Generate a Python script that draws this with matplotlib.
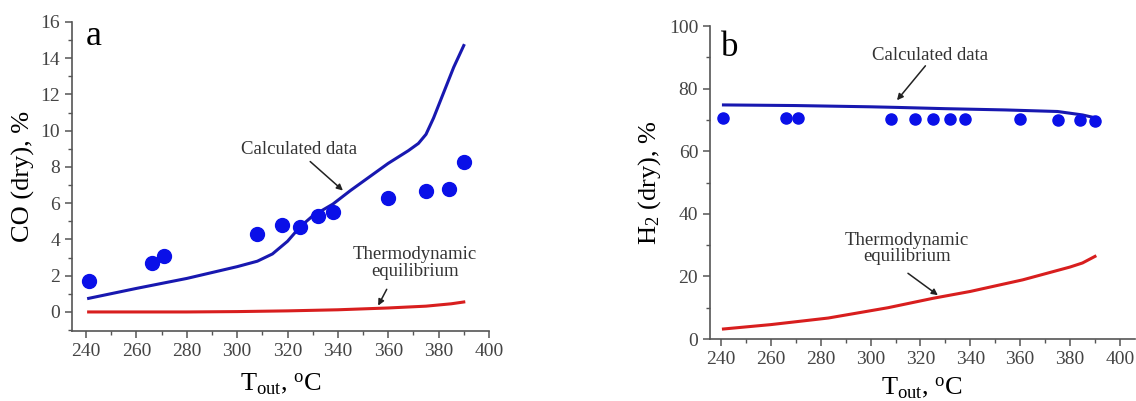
import matplotlib
matplotlib.use("Agg")
import matplotlib.pyplot as plt
from matplotlib.ticker import MultipleLocator

plt.rcParams["font.family"] = ["Liberation Serif", "DejaVu Serif"]
plt.rcParams["mathtext.fontset"] = "custom"
plt.rcParams["mathtext.rm"] = "Liberation Serif"
plt.rcParams["mathtext.it"] = "Liberation Serif"

# measured points (same temperatures in both panels)
T_exp = [241, 266, 271, 308, 318, 325, 332, 338, 360, 375, 384, 390]
CO_exp = [1.7, 2.7, 3.1, 4.3, 4.8, 4.7, 5.3, 5.5, 6.3, 6.7, 6.8, 8.3]
H2_exp = [70.5, 70.5, 70.5, 70.4, 70.4, 70.4, 70.4, 70.4, 70.3, 70.0, 70.0, 69.6]

# panel a curves
T_co_calc = [241, 260, 280, 300, 308, 314, 320, 325, 330, 338, 345, 350, 360, 368, 372, 375, 378, 382, 386, 390]
CO_calc = [0.75, 1.3, 1.85, 2.5, 2.8, 3.2, 3.9, 4.7, 5.3, 5.95, 6.7, 7.2, 8.2, 8.9, 9.3, 9.8, 10.7, 12.1, 13.5, 14.7]
T_co_eq = [241, 260, 280, 300, 320, 340, 360, 375, 385, 390]
CO_eq = [0.0, 0.0, 0.0, 0.02, 0.06, 0.12, 0.22, 0.32, 0.45, 0.55]

# panel b curves
T_h2_calc = [241, 270, 300, 311, 330, 354, 375, 385, 390]
H2_calc = [74.8, 74.6, 74.2, 74.0, 73.6, 73.2, 72.7, 71.6, 70.7]
T_h2_eq = [241, 260, 283, 307, 325, 340, 361, 380, 385, 390]
H2_eq = [3.2, 4.6, 6.7, 10.0, 13.0, 15.2, 18.9, 23.0, 24.3, 26.4]

LINE_BLUE = "#1818b0"
DOT_BLUE = "#0a10e8"
RED = "#d81e1e"
GRAY = "#555555"
TXT = "#333333"


def style_axes(ax, xmaj, xmin, ymaj, ymin):
    ax.spines["top"].set_visible(False)
    ax.spines["right"].set_visible(False)
    for s in ("left", "bottom"):
        ax.spines[s].set_color(GRAY)
        ax.spines[s].set_linewidth(1.2)
    ax.xaxis.set_major_locator(MultipleLocator(xmaj))
    ax.xaxis.set_minor_locator(MultipleLocator(xmin))
    ax.yaxis.set_major_locator(MultipleLocator(ymaj))
    ax.yaxis.set_minor_locator(MultipleLocator(ymin))
    ax.tick_params(which="major", direction="out", length=5, width=1.1,
                   color=GRAY, labelcolor="#444444", labelsize=14)
    ax.tick_params(which="minor", direction="out", length=3, width=1.0, color=GRAY)


def arrow(ax, tail, head):
    ax.annotate("", xy=head, xytext=tail,
                arrowprops=dict(arrowstyle="-|>", color="#222222", lw=1.1,
                                shrinkA=0, shrinkB=0, mutation_scale=9))


fig = plt.figure(figsize=(11.36, 4.01), dpi=100)

# ---- panel a ----
ax1 = fig.add_axes([0.0634, 0.1746, 0.367, 0.7706])
ax1.plot(T_co_calc, CO_calc, color=LINE_BLUE, lw=2.2)
ax1.plot(T_co_eq, CO_eq, color=RED, lw=2.2)
ax1.plot(T_exp, CO_exp, "o", color=DOT_BLUE, ms=10)
ax1.set_xlim(234.4, 400)
ax1.set_ylim(-1.05, 16)
style_axes(ax1, 20, 10, 2, 1)
ax1.set_ylabel("CO (dry), %", fontsize=19, labelpad=4)
ax1.set_xlabel(r"T$_\mathregular{out}$, $^\mathregular{o}$C", fontsize=19, labelpad=8)
ax1.text(240, 15.2, "a", fontsize=26, ha="left", va="center")
ax1.text(324.5, 8.94, "Calculated data", fontsize=13.5, ha="center", va="center", color=TXT)
arrow(ax1, (329, 8.3), (342, 6.7))
ax1.text(370.5, 2.7, "Thermodynamic\nequilibrium", fontsize=13.5, ha="center",
         va="center", color=TXT, linespacing=0.95)
arrow(ax1, (359.4, 1.25), (356, 0.35))

# ---- panel b ----
ax2 = fig.add_axes([0.625, 0.1546, 0.374, 0.7804])
ax2.plot(T_h2_calc, H2_calc, color=LINE_BLUE, lw=2.2)
ax2.plot(T_h2_eq, H2_eq, color=RED, lw=2.2)
ax2.plot(T_exp, H2_exp, "o", color=DOT_BLUE, ms=8)
ax2.set_xlim(235.6, 406)
ax2.set_ylim(0, 100)
style_axes(ax2, 20, 10, 20, 10)
ax2.set_ylabel(r"H$_\mathregular{2}$ (dry), %", fontsize=19, labelpad=4)
ax2.set_xlabel(r"T$_\mathregular{out}$, $^\mathregular{o}$C", fontsize=19, labelpad=5)
ax2.text(240, 93, "b", fontsize=25, ha="left", va="center")
ax2.text(323.9, 90.7, "Calculated data", fontsize=13.5, ha="center", va="center", color=TXT)
arrow(ax2, (322, 87.3), (310.6, 76.3))
ax2.text(314.5, 29, "Thermodynamic\nequilibrium", fontsize=13.5, ha="center",
         va="center", color=TXT, linespacing=0.95)
arrow(ax2, (315, 21), (327, 14.0))

fig.savefig("out.png", dpi=100)
